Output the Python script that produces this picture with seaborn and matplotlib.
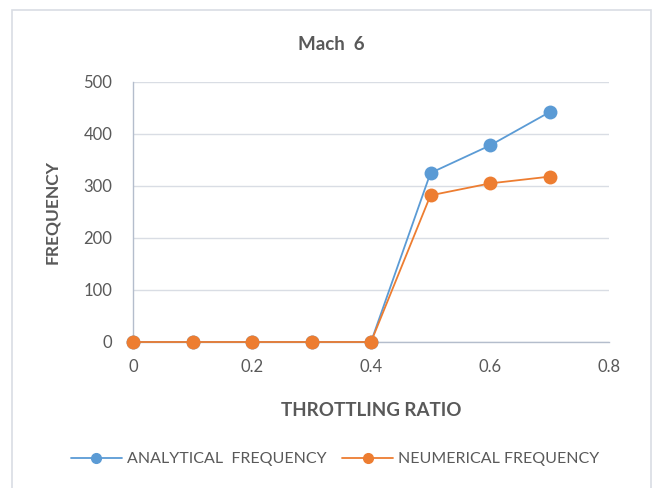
import pandas as pd
import matplotlib.pyplot as plt
import matplotlib.patches as mpatches
import seaborn as sns

throttling_ratio = [0, 0.1, 0.2, 0.3, 0.4, 0.5, 0.6, 0.7]
analytical = [0, 0, 0, 0, 0, 325, 378, 442]
numerical = [0, 0, 0, 0, 0, 282, 305, 318]
series_names = ["ANALYTICAL  FREQUENCY", "NEUMERICAL FREQUENCY"]

df = pd.DataFrame({
    "ratio": throttling_ratio * 2,
    "freq": analytical + numerical,
    "series": [series_names[0]] * len(analytical) + [series_names[1]] * len(numerical),
})

sns.set_style("white")
plt.rcParams["font.family"] = ["Lato", "DejaVu Sans"]

text_col = "#595959"
fig = plt.figure(figsize=(6.54, 4.88), dpi=100)
ax = fig.add_axes([133 / 654, 1 - 342 / 488, 476 / 654, 260 / 488])

# chart border like the spreadsheet frame
fig.patches.append(mpatches.Rectangle((12 / 654, -0.05), 639 / 654, 1.05 - 10 / 488,
                                      transform=fig.transFigure, fill=False,
                                      edgecolor="#d9dde4", linewidth=1.2))

sns.lineplot(data=df, x="ratio", y="freq", hue="series", ax=ax,
             palette=["#5B9BD5", "#ED7D31"], marker="o", markersize=10,
             markeredgewidth=0, linewidth=1.3, legend=False, zorder=3,
             clip_on=False)

ax.set_xlim(0, 0.8)
ax.set_ylim(0, 500)
ax.set_xticks([0, 0.2, 0.4, 0.6, 0.8])
ax.set_xticklabels(["0", "0.2", "0.4", "0.6", "0.8"])
ax.set_yticks([0, 100, 200, 300, 400, 500])
ax.tick_params(colors=text_col, labelsize=12, length=0)
ax.tick_params(axis="x", pad=12)
ax.tick_params(axis="y", pad=15)
ax.grid(axis="y", color="#d9dde4", linewidth=1)
ax.set_axisbelow(True)
for s in ["top", "right"]:
    ax.spines[s].set_visible(False)
for s in ["left", "bottom"]:
    ax.spines[s].set_color("#b4bdcc")
    ax.spines[s].set_linewidth(1)

ax.set_xlabel("THROTTLING RATIO", fontsize=13.5, fontweight="bold", color=text_col)
ax.set_ylabel("FREQUENCY", fontsize=12.5, fontweight="bold", color=text_col)
ax.xaxis.set_label_coords(0.5, -(402 - 342) / 260)
ax.yaxis.set_label_coords(-(133 - 60) / 476, 0.5)

fig.text(331 / 654, 1 - 44 / 488, "Mach  6", ha="center", va="center",
         fontsize=13.5, fontweight="bold", color=text_col)

handles = [plt.Line2D([], [], color=c, marker="o", markersize=7, linewidth=1.3)
           for c in ["#5B9BD5", "#ED7D31"]]
fig.legend(handles, series_names, loc="center", bbox_to_anchor=(335 / 654, 1 - 459 / 488),
           ncol=2, frameon=False, fontsize=11.5, labelcolor=text_col,
           handlelength=3.2, columnspacing=1.0, handletextpad=0.3)

plt.savefig("out.png", dpi=100)
